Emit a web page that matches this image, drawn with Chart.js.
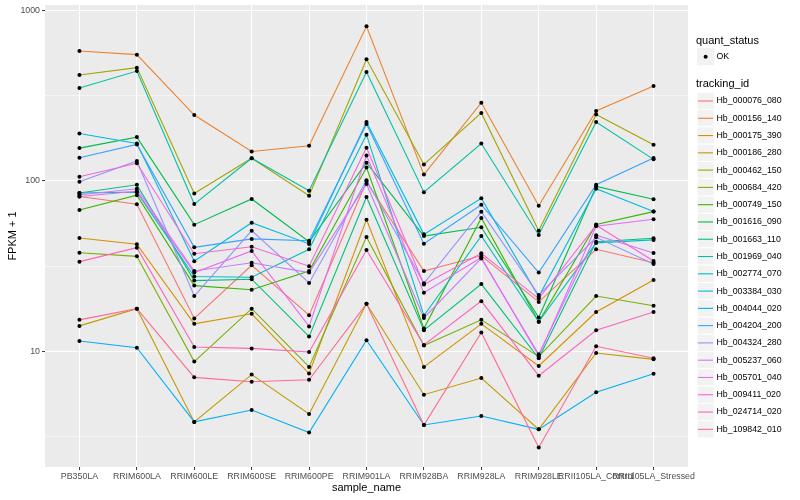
<!DOCTYPE html>
<html>
<head>
<meta charset="utf-8">
<script src="https://cdn.jsdelivr.net/npm/chart.js@4.4.0/dist/chart.umd.min.js"></script>
<style>
  html, body { margin: 0; padding: 0; background: #fff; }
  #wrap { width: 800px; height: 500px; }
</style>
</head>
<body>
<div id="wrap"><canvas id="chart"></canvas></div>
<script>
// sample names on the x axis
const samples = ["PB350LA", "RRIM600LA", "RRIM600LE", "RRIM600SE", "RRIM600PE", "RRIM901LA",
  "RRIM928BA", "RRIM928LA", "RRIM928LE", "RRII105LA_Control", "RRII105LA_Stressed"];

const trackingIds = ["Hb_000076_080", "Hb_000156_140", "Hb_000175_390", "Hb_000186_280", "Hb_000462_150",
  "Hb_000684_420", "Hb_000749_150", "Hb_001616_090", "Hb_001663_110", "Hb_001969_040",
  "Hb_002774_070", "Hb_003384_030", "Hb_004044_020", "Hb_004204_200", "Hb_004324_280",
  "Hb_005237_060", "Hb_005701_040", "Hb_009411_020", "Hb_024714_020", "Hb_109842_010"];

const seriesColors = ["#F8766D", "#EA8331", "#D89000", "#C09B00", "#A3A500", "#7CAE00", "#39B600",
  "#00BB4E", "#00BF7D", "#00C1A3", "#00BFC4", "#00BAE0", "#00B0F6", "#35A2FF", "#9590FF",
  "#C77CFF", "#E76BF3", "#FA62DB", "#FF62BC", "#FF6C91"];

// FPKM + 1, one value per sample
const hb_000076_080 = [81, 73, 15.6, 32.0, 16.3, 99, 29.6, 36.4, 19.5, 39.7, 33.1];
const hb_000156_140 = [580, 552, 244, 149, 161, 810, 109, 288, 71.6, 258, 361];
const hb_000175_390 = [46.3, 42.5, 14.5, 16.6, 7.4, 59.3, 8.1, 14.5, 8.2, 17.0, 26.2];
const hb_000186_280 = [14.1, 17.8, 3.85, 7.3, 4.28, 19, 5.56, 6.97, 3.48, 9.77, 8.97];
const hb_000462_150 = [419, 463, 84.4, 136, 82, 518, 125, 251, 51, 246, 163];
const hb_000684_420 = [37.9, 36.1, 8.7, 17.8, 8.1, 46.9, 10.8, 15.3, 9.3, 21.1, 18.5];
const hb_000749_150 = [67.6, 82.5, 24.3, 23, 29.6, 120, 13.6, 60.7, 14.9, 55.5, 66.1];
const hb_001616_090 = [156, 181, 55.4, 78.4, 44, 128, 47.5, 53.5, 15.8, 93, 78.1];
const hb_001663_110 = [85, 95, 26, 26.5, 12.2, 80.5, 13.3, 24.8, 9.1, 44, 46.1];
const hb_001969_040 = [352, 442, 73.2, 136, 87.7, 436, 86, 166, 48.2, 222, 134];
const hb_002774_070 = [85, 86, 27.5, 27.2, 39.7, 187, 16.2, 47.5, 14.9, 43.3, 45.1];
const hb_003384_030 = [190, 166, 33.8, 56.9, 42.7, 222, 48.6, 79.2, 20.9, 90, 66.1];
const hb_004044_020 = [11.5, 10.5, 3.85, 4.52, 3.33, 11.6, 3.69, 4.17, 3.48, 5.74, 7.39];
const hb_004204_200 = [137, 164, 40.8, 45.7, 44.6, 216, 42.8, 72.6, 29.0, 95, 136.5];
const hb_004324_280 = [99, 131, 21.1, 51.1, 25.2, 101, 25.1, 66, 21.4, 46.7, 32.5];
const hb_005237_060 = [83, 90, 29.6, 33.1, 29.0, 96, 15.7, 35.1, 9.6, 48, 37.8];
const hb_005701_040 = [81, 87, 29.0, 38.8, 14.0, 141, 22.1, 35.5, 9.4, 54.3, 59.6];
const hb_009411_020 = [106, 127, 37.4, 41.1, 31.6, 157, 24.7, 37.6, 20.4, 55, 33.9];
const hb_024714_020 = [33.6, 40.6, 10.6, 10.4, 9.9, 39.3, 10.9, 19.7, 7.19, 13.3, 17.0];
const hb_109842_010 = [15.3, 17.8, 7.03, 6.63, 6.8, 19, 3.69, 12.9, 2.72, 10.7, 9.1];

const seriesValues = [hb_000076_080, hb_000156_140, hb_000175_390, hb_000186_280, hb_000462_150,
  hb_000684_420, hb_000749_150, hb_001616_090, hb_001663_110, hb_001969_040,
  hb_002774_070, hb_003384_030, hb_004044_020, hb_004204_200, hb_004324_280,
  hb_005237_060, hb_005701_040, hb_009411_020, hb_024714_020, hb_109842_010];

const yMajorTicks = [10, 100, 1000];
const yMinorTicks = [3.162, 31.62, 316.2];

const FONT = '"Liberation Sans", Arial, sans-serif';
Chart.defaults.font.family = FONT;

// grey panel behind the grid
const panelBackground = {
  id: 'panelBackground',
  beforeDraw(chart) {
    const {ctx, chartArea: a} = chart;
    ctx.save();
    ctx.fillStyle = '#EBEBEB';
    ctx.fillRect(a.left, a.top, a.right - a.left, a.bottom - a.top);
    ctx.restore();
  }
};

// ggplot-like legend with two sections
const sideLegend = {
  id: 'sideLegend',
  afterDraw(chart) {
    const ctx = chart.ctx;
    const key = 17.28;
    ctx.save();
    ctx.textBaseline = 'middle';
    ctx.textAlign = 'left';
    ctx.fillStyle = '#000';
    ctx.font = '11px ' + FONT;
    ctx.fillText('quant_status', 696, 41);

    ctx.fillStyle = '#F2F2F2';
    ctx.fillRect(697, 48, key, key);
    ctx.fillStyle = '#000';
    ctx.beginPath();
    ctx.arc(697 + key / 2, 48 + key / 2, 2, 0, Math.PI * 2);
    ctx.fill();
    ctx.font = '8.8px ' + FONT;
    ctx.fillText('OK', 716.5, 57);

    ctx.font = '11px ' + FONT;
    ctx.fillText('tracking_id', 696, 84);

    trackingIds.forEach((name, i) => {
      const cy = 101 + i * key;
      ctx.fillStyle = '#F2F2F2';
      ctx.fillRect(697, cy - key / 2, key, key);
      ctx.strokeStyle = '#fff';
      ctx.lineWidth = 1;
      ctx.strokeRect(697, cy - key / 2, key, key);
      ctx.strokeStyle = seriesColors[i];
      ctx.lineWidth = 1.1;
      ctx.beginPath();
      ctx.moveTo(698, cy);
      ctx.lineTo(713, cy);
      ctx.stroke();
      ctx.fillStyle = '#000';
      ctx.font = '8.8px ' + FONT;
      ctx.fillText(name, 716.5, cy);
    });
    ctx.restore();
  }
};

const datasets = seriesValues.map((vals, i) => ({
  type: 'line',
  label: trackingIds[i],
  data: vals.map((v, j) => ({x: j, y: v})),
  borderColor: seriesColors[i],
  backgroundColor: seriesColors[i],
  borderWidth: 1.1,
  pointRadius: 0,
  tension: 0,
  order: seriesValues.length - i
}));

datasets.push({
  type: 'scatter',
  label: 'OK',
  data: seriesValues.flatMap(vals => vals.map((v, j) => ({x: j, y: v}))),
  backgroundColor: '#000',
  borderColor: '#000',
  borderWidth: 0,
  pointRadius: 2,
  order: -1
});

const isMajor = v => yMajorTicks.some(t => Math.abs(t - v) < 1e-6);

new Chart(document.getElementById('chart'), {
  data: { datasets },
  plugins: [panelBackground, sideLegend],
  options: {
    responsive: true,
    maintainAspectRatio: false,
    devicePixelRatio: 1,
    animation: false,
    layout: { padding: { left: 0, right: 112, top: 5, bottom: 0 } },
    plugins: { legend: { display: false }, tooltip: { enabled: false } },
    scales: {
      x: {
        type: 'linear',
        min: -0.6,
        max: samples.length - 0.4,
        afterBuildTicks: s => { s.ticks = samples.map((_, i) => ({value: i})); },
        afterFit: s => { s.height = 33; s.paddingLeft = 0; s.paddingRight = 0; },
        ticks: {
          callback: v => samples[Math.round(v)],
          autoSkip: false, maxRotation: 0, minRotation: 0,
          color: '#4D4D4D', font: { size: 8.8 }, padding: 1
        },
        grid: { color: '#fff', lineWidth: 1.07, tickLength: 3, tickColor: '#333333', tickWidth: 1 },
        border: { display: false },
        title: { display: true, text: 'sample_name', color: '#000', font: { size: 11 }, padding: { top: 0, bottom: 5 } }
      },
      y: {
        type: 'logarithmic',
        min: 2.092,
        max: 1080,
        afterBuildTicks: s => {
          s.ticks = [...yMajorTicks, ...yMinorTicks].map(v => ({value: v}));
        },
        afterFit: s => { s.width = 45; s.paddingTop = 0; s.paddingBottom = 0; },
        ticks: {
          callback: v => isMajor(v) ? String(v) : '',
          color: '#4D4D4D', font: { size: 8.8 }, padding: 2
        },
        grid: {
          color: '#fff',
          lineWidth: c => (c.tick && isMajor(c.tick.value)) ? 1.07 : 0.53,
          tickLength: 3,
          tickColor: c => (c.tick && isMajor(c.tick.value)) ? '#333333' : 'rgba(0,0,0,0)',
          tickWidth: 1
        },
        border: { display: false },
        title: { display: true, text: 'FPKM + 1', color: '#000', font: { size: 11 }, padding: { top: 6, bottom: 0 } }
      }
    }
  }
});
</script>
</body>
</html>
